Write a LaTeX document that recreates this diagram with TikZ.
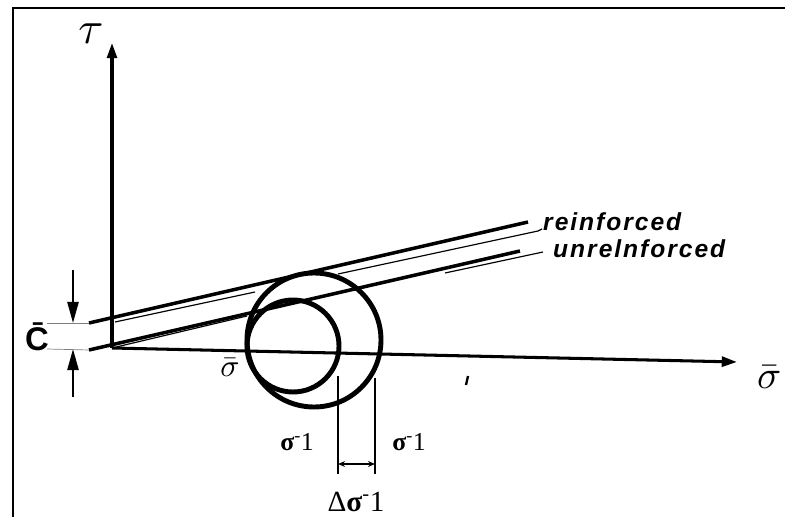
\documentclass[tikz,border=0pt]{standalone}
\usepackage{fontspec}
\usepackage{tikz}
\usetikzlibrary{arrows.meta}
\newfontfamily\tagfont[LetterSpace=8]{Liberation Sans}
\newfontfamily\cfont{Liberation Sans}
\newfontfamily\numfont{Liberation Serif}
\newcommand{\sgone}{\textbf{σ}\textsuperscript{-}1}

\begin{document}
\begin{tikzpicture}[x=0.03cm, y=-0.03cm,
  ax/.style={line width=2.6pt, -{Triangle[length=13pt,width=8.5pt]}},
  bold/.style={line width=3pt},
  thn/.style={line width=1pt},
  ring/.style={line width=4.2pt},
  ext/.style={line width=0.6pt, gray},
  dimln/.style={line width=1.4pt},
  carr/.style={line width=1.8pt, -{Triangle[length=18pt,width=9.5pt]}},
  tag/.style={font=\tagfont\bfseries\itshape\fontsize{21}{24}\selectfont, anchor=base west, inner sep=0pt},
  num/.style={font=\numfont\fontsize{22}{24}\selectfont, inner sep=0pt}
]
  \useasboundingbox (0,0) rectangle (785,517);
  \fill[white] (0,0) rectangle (785,517);
  \draw[line width=1.6pt] (13,530) -- (13,8) -- (800,8);

  % axes
  \coordinate (o) at (112,348);
  \coordinate (ttop) at (112,43);
  \coordinate (send) at (737,362);
  \draw[ax] (o) -- (ttop);
  \draw[ax] (o) -- (send);
  \node (tau) at (91,34) {\scalebox{3.9}{$\tau$}};
  \node[anchor=west, inner sep=0pt] (sig) at (757,377) {\scalebox{3.4}{$\bar\sigma$}};
  \node[inner sep=0pt] (sigs) at (230,368) {\scalebox{2.7}{$\bar\sigma$}};

  % envelope lines
  \coordinate (r0) at (89,323);
  \coordinate (r1) at (528,222);
  \coordinate (u0) at (89,350);
  \coordinate (u1) at (520,251);
  \draw[bold] (r0) -- (r1);
  \draw[bold] (u0) -- (u1);
  \draw[thn] (115,322) -- (255,292);
  \draw[thn] (338,274) -- (538,231) -- (542,229);
  \draw[thn] (o) -- (247,316);
  \draw[thn] (445,273) -- (543,252);
  \node[tag] (rein) at (543,231) {reinforced};
  \node[tag] (unre) at (553,258) {unrelnforced};

  % Mohr circles
  \draw[ring] (314,340) circle[radius=67];
  \draw[ring] (293,346) circle[radius=46];

  % cohesion c
  \coordinate (c1) at (47,323);
  \coordinate (c2) at (47,349);
  \draw[ext] (c1) -- (r0);
  \draw[ext] (c2) -- (u0);
  \draw[carr] (73,270) -- (73,323);
  \draw[carr] (73,397) -- (73,349);
  \node[inner sep=0pt] (c) at (37,337) {\cfont\bfseries\fontsize{28}{28}\selectfont\=C};

  % tick
  \draw[line width=2pt] (468,376) -- (466,385);

  % delta sigma 1
  \coordinate (d1) at (338,376);
  \coordinate (d2) at (375,378);
  \coordinate (d1b) at (338,474);
  \coordinate (d2b) at (375,474);
  \draw[dimln] (d1) -- (d1b);
  \draw[dimln] (d2) -- (d2b);
  \draw[dimln, {Stealth[length=6pt,width=5pt]}-{Stealth[length=6pt,width=5pt]}] (338,464) -- (375,464);
  \node[num] (s1a) at (297,442) {\sgone};
  \node[num] (s1b) at (409,442) {\sgone};
  \node[num, font=\numfont\fontsize{25}{26}\selectfont] (ds1) at (356,502) {Δ\sgone};
\end{tikzpicture}
\end{document}
